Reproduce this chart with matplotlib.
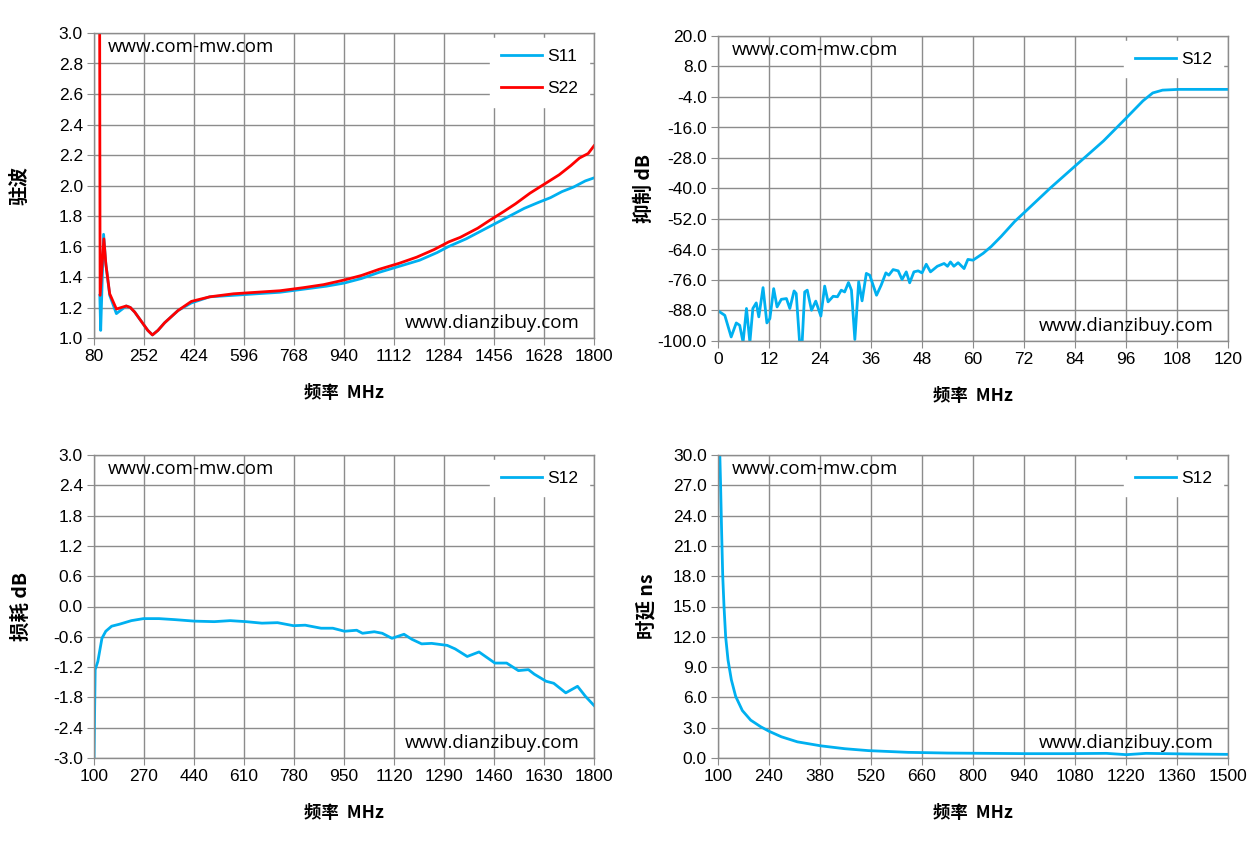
import numpy as np
import matplotlib.pyplot as plt
from matplotlib.ticker import FormatStrFormatter

# ---------------- data ----------------
# VSWR plot
vswr_f_s11 = [100, 103, 113, 120, 134, 157, 191, 205, 220, 235, 250, 265, 281, 300,
              323, 369, 415, 478, 560, 640, 720, 800, 880, 940, 1000, 1060, 1130,
              1200, 1260, 1300, 1360, 1410, 1460, 1510, 1560, 1610, 1650, 1690, 1730,
              1770, 1800]
vswr_s11 = [1.28, 1.05, 1.68, 1.50, 1.28, 1.16, 1.21, 1.20, 1.17, 1.13, 1.09, 1.05,
            1.02, 1.05, 1.10, 1.18, 1.23, 1.27, 1.28, 1.29, 1.30, 1.32, 1.34, 1.36,
            1.39, 1.43, 1.47, 1.51, 1.56, 1.60, 1.65, 1.70, 1.75, 1.80, 1.85, 1.89,
            1.92, 1.96, 1.99, 2.03, 2.05]
vswr_f_s22 = [99, 101, 114, 121, 134, 157, 191, 205, 220, 235, 250, 265, 281, 300,
              323, 369, 415, 478, 560, 640, 720, 800, 870, 940, 1000, 1060, 1130,
              1190, 1250, 1300, 1340, 1400, 1440, 1490, 1530, 1580, 1630, 1680, 1720,
              1750, 1780, 1800]
vswr_s22 = [3.6, 1.28, 1.65, 1.48, 1.29, 1.19, 1.21, 1.20, 1.17, 1.13, 1.09, 1.05,
            1.02, 1.05, 1.10, 1.18, 1.24, 1.27, 1.29, 1.30, 1.31, 1.33, 1.35, 1.38,
            1.41, 1.45, 1.49, 1.53, 1.58, 1.63, 1.66, 1.72, 1.77, 1.83, 1.88, 1.95,
            2.01, 2.07, 2.13, 2.18, 2.21, 2.26]

# rejection plot
rej_f = [0, 1.6, 3.1, 4.3, 5.1, 5.9, 6.7, 7.5, 8.2, 9.0, 9.6, 10.6, 11.5, 12.2, 13.1,
         13.9, 14.9, 16.1, 16.9, 17.9, 18.4, 19.2, 19.8, 20.4, 21.0, 22.0, 23.0, 24.2,
         25.1, 25.9, 27.1, 28.1, 29.0, 29.8, 30.7, 31.4, 32.2, 33.1, 33.9, 34.9, 35.7,
         37.3, 38.4, 39.5, 40.2, 41.2, 42.4, 43.3, 44.3, 45.1, 46.1, 47.1, 48.0, 49.0,
         50.0, 51.6, 53.2, 54.0, 54.7, 55.5, 56.5, 57.9, 58.8, 60.0, 62.4, 64.3, 66.6,
         69.8, 72.1, 78.2, 84.2, 90.7, 95.8, 100.0, 102.3, 104.6, 108.4, 120.0]
rej_db = [-88.1, -89.9, -98.4, -92.9, -93.8, -100.5, -87.2, -100.5, -87.2, -85.0, -90.5,
          -79.0, -92.9, -91.2, -79.4, -86.6, -83.6, -83.3, -87.2, -80.3, -81.3, -100.5,
          -100.5, -80.7, -80.0, -87.9, -84.3, -90.2, -78.4, -84.6, -82.4, -82.6, -80.0,
          -80.7, -77.0, -80.0, -99.4, -76.7, -84.2, -73.4, -74.1, -82.0, -78.0, -73.2,
          -74.1, -71.9, -72.4, -75.8, -72.8, -77.1, -72.8, -72.4, -73.2, -69.8, -72.8,
          -70.6, -69.5, -70.6, -68.9, -70.6, -69.2, -71.5, -67.9, -68.2, -65.5, -62.8,
          -58.9, -53.0, -49.4, -39.8, -30.9, -21.3, -12.7, -5.5, -2.4, -1.3, -1.0, -1.0]

# insertion loss plot
loss_f = [100, 104, 113, 127, 140, 160, 187, 227, 268, 321, 375, 442, 509, 563, 617,
          671, 724, 778, 818, 872, 912, 952, 993, 1013, 1053, 1080, 1113, 1154, 1181,
          1214, 1248, 1301, 1328, 1369, 1409, 1463, 1503, 1543, 1577, 1597, 1637, 1663,
          1704, 1744, 1771, 1800]
loss_db = [-3.0, -1.25, -1.09, -0.63, -0.49, -0.39, -0.35, -0.28, -0.24, -0.24, -0.26,
           -0.29, -0.30, -0.28, -0.30, -0.33, -0.32, -0.38, -0.37, -0.43, -0.43, -0.49,
           -0.47, -0.53, -0.50, -0.53, -0.63, -0.55, -0.65, -0.74, -0.73, -0.77, -0.84,
           -0.99, -0.90, -1.12, -1.12, -1.27, -1.25, -1.34, -1.48, -1.52, -1.71, -1.58,
           -1.78, -1.96]

# group delay plot
delay_f = [103.5, 105, 107, 110, 113, 116.5, 121, 127.5, 136.6, 148.5, 166.8, 189.7,
           217, 240, 274, 318, 383, 448, 513, 622, 731, 840, 949, 1058, 1166, 1221,
           1275, 1384, 1500]
delay_ns = [34.0, 30.0, 27.2, 22.3, 18.0, 15.0, 12.0, 9.7, 7.75, 6.1, 4.7, 3.75,
            3.1, 2.65, 2.1, 1.6, 1.2, 0.92, 0.73, 0.56, 0.49, 0.46, 0.43, 0.43, 0.46,
            0.33, 0.46, 0.40, 0.36]

BLUE = '#00B0F0'
RED = '#FF0000'
GRID = '#8C8C8C'
TICK_FONT = ['Liberation Sans', 'DejaVu Sans']
CJK = ['Noto Sans CJK SC', 'DejaVu Sans']

plt.rcParams['font.family'] = TICK_FONT

fig = plt.figure(figsize=(12.58, 8.46), dpi=100)


def style_axes(ax, xlim, xstep, ylim, ystep, yfmt, ylabel, ylab_x):
    ax.set_xlim(xlim)
    ax.set_ylim(ylim)
    ax.set_xticks(np.arange(xlim[0], xlim[1] + xstep / 2, xstep))
    ax.set_yticks(np.arange(ylim[0], ylim[1] + ystep / 2, ystep))
    ax.yaxis.set_major_formatter(FormatStrFormatter(yfmt))
    ax.grid(True, color=GRID, linewidth=1.0)
    ax.set_axisbelow(True)
    for s in ax.spines.values():
        s.set_color(GRID)
        s.set_linewidth(1.0)
    ax.tick_params(direction='out', length=5, color=GRID, labelsize=12.5,
                   labelcolor='black', pad=3)
    ax.set_xlabel('频率  MHz', family=CJK, fontsize=12.5, fontweight='bold', labelpad=14)
    ax.set_ylabel(ylabel, family=CJK, fontsize=14, fontweight='bold')
    ax.yaxis.set_label_coords(ylab_x, 0.5)
    ax.text(0.028, 0.955, 'www.com-mw.com', transform=ax.transAxes, fontsize=13.5,
            family=['Open Sans', 'DejaVu Sans'], va='center', ha='left')
    ax.text(0.972, 0.05, 'www.dianzibuy.com', transform=ax.transAxes, fontsize=13.5,
            family=['Open Sans', 'DejaVu Sans'], va='center', ha='right')


def add_legend(ax):
    leg = ax.legend(loc='upper right', frameon=True, fontsize=12.5, handlelength=2.4,
                    borderaxespad=0.3, labelspacing=1.0, handletextpad=0.3,
                    borderpad=0.6)
    leg.get_frame().set_edgecolor('white')
    leg.get_frame().set_facecolor('white')
    leg.get_frame().set_alpha(1.0)
    leg.get_frame().set_boxstyle('square', pad=0.0)


# top left: VSWR
ax1 = fig.add_axes([94 / 1258, 1 - 338 / 846, 500 / 1258, 305 / 846])
ax1.plot(vswr_f_s11, vswr_s11, color=BLUE, lw=2, label='S11')
ax1.plot(vswr_f_s22, vswr_s22, color=RED, lw=2, label='S22')
style_axes(ax1, (80, 1800), 172, (1.0, 3.0), 0.2, '%.1f', '驻波', -0.13)
add_legend(ax1)

# top right: rejection
ax2 = fig.add_axes([718 / 1258, 1 - 341 / 846, 510 / 1258, 305 / 846])
ax2.plot(rej_f, rej_db, color=BLUE, lw=2, label='S12')
style_axes(ax2, (0, 120), 12, (-100, 20), 12, '%.1f', '抑制 dB', -0.125)
add_legend(ax2)

# bottom left: insertion loss
ax3 = fig.add_axes([94 / 1258, 1 - 758 / 846, 500 / 1258, 303 / 846])
ax3.plot(loss_f, loss_db, color=BLUE, lw=2, label='S12')
style_axes(ax3, (100, 1800), 170, (-3.0, 3.0), 0.6, '%.1f', '损耗 dB', -0.126)
add_legend(ax3)

# bottom right: group delay
ax4 = fig.add_axes([718 / 1258, 1 - 758 / 846, 510 / 1258, 303 / 846])
ax4.plot(delay_f, delay_ns, color=BLUE, lw=2, label='S12')
style_axes(ax4, (100, 1500), 140, (0, 30), 3, '%.1f', '时延 ns', -0.12)
add_legend(ax4)

fig.savefig('out.png', dpi=100)
